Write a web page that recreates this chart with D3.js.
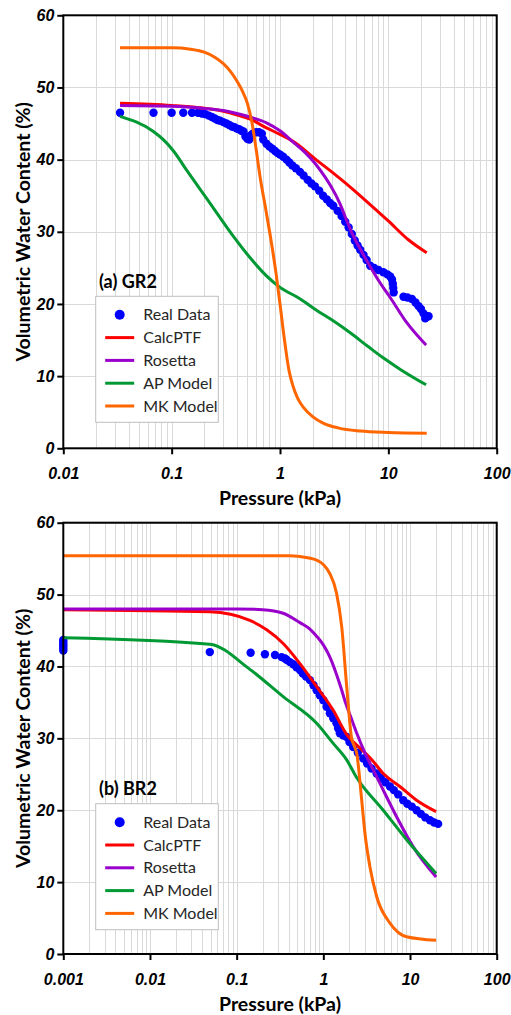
<!DOCTYPE html>
<html>
<head>
<meta charset="utf-8">
<script src="https://cdn.jsdelivr.net/npm/d3@7"></script>
<style>
  body { margin: 0; background: #fff; }
  svg { display: block; font-family: Lato, "Open Sans", sans-serif; }
  .grid line { stroke: #d9d9d9; stroke-width: 1; shape-rendering: crispEdges; }
  .axis text { font-size: 16px; font-weight: bold; font-style: italic; fill: #000; }
  .axis line { stroke: #000; stroke-width: 2; }
  .axis path { display: none; }
  .title { font-size: 19.5px; font-weight: bold; fill: #000; }
  .legend text { font-size: 16px; fill: #262626; }
</style>
</head>
<body>
<svg width="511" height="1015"></svg>
<script>
// series names, in legend order
const seriesNames = ["Real Data", "CalcPTF", "Rosetta", "AP Model", "MK Model"];
const yTicks = [0, 10, 20, 30, 40, 50, 60];
const xTicksA = [0.01, 0.1, 1, 10, 100];
const xTicksB = [0.001, 0.01, 0.1, 1, 10, 100];

// (a) GR2 : [pressure kPa, water content %]
const gr2RealData = [
  [0.0334, 46.5], [0.068, 46.5], [0.1, 46.5], [0.128, 46.5], [0.154, 46.5], [0.175, 46.5],
  [0.19, 46.4], [0.205, 46.3], [0.22, 46.1], [0.235, 45.9], [0.25, 45.7], [0.265, 45.5],
  [0.28, 45.4], [0.3, 45.2], [0.32, 45.0], [0.34, 44.8], [0.36, 44.6], [0.38, 44.5],
  [0.4, 44.3], [0.42, 44.2], [0.44, 44.0], [0.46, 43.9], [0.48, 43.2], [0.5, 42.9],
  [0.52, 42.8], [0.54, 43.4], [0.56, 43.6], [0.6, 43.8], [0.64, 43.8], [0.68, 43.6],
  [0.7, 42.8], [0.75, 42.2], [0.8, 41.8], [0.85, 41.5], [0.9, 41.2], [0.95, 40.9],
  [1.0, 40.7], [1.07, 40.4], [1.15, 40.0], [1.22, 39.6], [1.3, 39.2], [1.4, 38.8],
  [1.53, 38.3], [1.65, 37.8], [1.8, 37.2], [1.95, 36.7], [2.1, 36.3], [2.3, 35.7],
  [2.5, 35.0], [2.7, 34.5], [2.9, 34.0], [3.1, 33.6], [3.4, 32.9], [3.7, 32.2],
  [4.0, 31.4], [4.3, 30.6], [4.6, 29.7], [4.9, 28.8], [5.2, 28.1], [5.5, 27.5],
  [5.9, 26.8], [6.3, 26.1], [6.8, 25.3], [7.4, 25.0], [8.1, 24.7], [9.0, 24.4],
  [9.8, 24.1], [10.4, 23.8], [10.8, 23.4], [11.0, 22.8], [11.1, 22.2], [11.2, 21.6],
  [13.8, 21.0], [15.0, 20.9], [16.5, 20.7], [17.8, 20.2], [19.0, 19.7], [20.0, 19.3],
  [21.1, 18.7], [21.9, 18.0], [22.7, 18.3], [23.5, 18.3]
];
const gr2CalcPTF = [
  [0.0334, 47.8], [0.1, 47.5], [0.18, 47.2], [0.3, 46.7], [0.42, 46.1], [0.53, 45.6],
  [0.75, 44.4], [1.0, 43.5], [1.33, 42.5], [2.19, 39.9], [3.0, 38.3], [4.45, 36.2],
  [7.0, 33.6], [10.0, 31.5], [15.3, 28.9], [22.6, 27.1]
];
const gr2Rosetta = [
  [0.0334, 47.5], [0.1, 47.4], [0.2, 47.1], [0.3, 46.8], [0.4, 46.4], [0.53, 45.9],
  [0.75, 45.1], [1.0, 44.0], [1.33, 42.4], [1.7, 41.0], [2.13, 39.4], [2.6, 37.6],
  [2.95, 36.3], [3.6, 33.8], [4.14, 31.5], [4.76, 29.4], [5.7, 27.2], [6.79, 25.2],
  [8.5, 22.8], [10.4, 20.9], [14.8, 17.4], [22.3, 14.3]
];
const gr2APModel = [
  [0.0334, 46.0], [0.0678, 43.9], [0.0833, 42.8], [0.104, 41.2], [0.138, 38.5],
  [0.211, 34.6], [0.37, 29.4], [0.53, 26.4], [0.75, 23.9], [1.0, 22.3], [1.5, 20.8],
  [2.19, 19.1], [3.0, 17.8], [4.45, 16.0], [6.5, 14.1], [9.02, 12.5], [13.0, 10.9],
  [22.3, 8.8]
];
const gr2MKModel = [
  [0.0334, 55.5], [0.1, 55.5], [0.15, 55.3], [0.2, 54.9], [0.25, 54.2], [0.3, 53.3],
  [0.35, 52.2], [0.4, 50.9], [0.45, 49.5], [0.5, 47.8], [0.55, 45.2], [0.6, 41.6],
  [0.655, 37.6], [0.745, 32.8], [0.839, 28.2], [0.92, 24.2], [1.0, 20.0], [1.1, 15.0],
  [1.21, 10.8], [1.32, 8.6], [1.45, 7.0], [1.66, 5.6], [2.0, 4.4], [2.5, 3.5],
  [3.5, 2.8], [5.5, 2.4], [10.0, 2.2], [22.6, 2.1]
];

// (b) BR2
const br2RealData = [
  [0.001, 42.2], [0.001, 42.5], [0.001, 42.8], [0.001, 43.1], [0.001, 43.4], [0.001, 43.7],
  [0.049, 42.0], [0.145, 41.9], [0.212, 41.7], [0.277, 41.6], [0.33, 41.3], [0.361, 41.1],
  [0.38, 40.9], [0.412, 40.6], [0.45, 40.3], [0.49, 39.9], [0.537, 39.5], [0.58, 39.0],
  [0.63, 38.6], [0.7, 38.1], [0.77, 37.4], [0.837, 36.7], [0.91, 36.0], [1.0, 35.3],
  [1.09, 34.4], [1.19, 33.5], [1.3, 32.8], [1.42, 32.1], [1.48, 31.4], [1.55, 30.7],
  [1.7, 30.4], [1.86, 30.2], [2.0, 29.5], [2.21, 28.8], [2.5, 28.0], [2.89, 27.2],
  [3.2, 26.5], [3.6, 25.8], [4.12, 25.1], [4.6, 24.5], [5.2, 23.9], [5.87, 23.3],
  [6.5, 22.8], [7.3, 22.2], [8.35, 21.4], [9.3, 20.9], [10.5, 20.5], [11.9, 20.0],
  [13.3, 19.5], [15.0, 19.0], [17.0, 18.6], [19.0, 18.3], [21.1, 18.1]
];
const br2CalcPTF = [
  [0.001, 47.9], [0.049, 47.6], [0.142, 46.4], [0.222, 45.1], [0.344, 43.2], [0.537, 40.4],
  [0.837, 37.2], [1.3, 33.9], [1.82, 30.7], [2.79, 28.4], [3.64, 27.0], [4.91, 25.1],
  [7.64, 23.3], [11.9, 21.4], [20, 19.8]
];
const br2Rosetta = [
  [0.001, 48.0], [0.1, 48.0], [0.2, 47.9], [0.344, 47.4], [0.537, 46.1], [0.7, 45.2],
  [0.837, 44.2], [1.0, 43.0], [1.19, 41.3], [1.4, 39.1], [1.6, 37.0], [1.82, 34.8],
  [2.1, 32.8], [2.38, 31.0], [3.12, 27.6], [4.0, 25.0], [4.91, 22.8], [7.0, 19.1],
  [10.9, 14.9], [20, 10.7]
];
const br2APModel = [
  [0.001, 44.0], [0.049, 43.1], [0.142, 39.6], [0.344, 35.8], [0.837, 32.1], [1.3, 29.3],
  [1.86, 27.0], [2.38, 24.7], [4.91, 20.0], [9.14, 15.9], [20, 11.2]
];
const br2MKModel = [
  [0.001, 55.4], [0.1, 55.4], [0.4, 55.4], [0.537, 55.3], [0.837, 54.8], [1.19, 52.9],
  [1.42, 50.2], [1.63, 45.5], [1.86, 37.2], [2.12, 30.0], [2.3, 28.8], [2.42, 28.0],
  [2.77, 21.4], [3.02, 16.8], [3.45, 12.1], [4.12, 8.0], [5.87, 4.3], [9.14, 2.4], [20, 1.9]
];

const colors = ["#0000ff", "#ff0000", "#9900cc", "#009933", "#ff6600"];

function drawPanel(svg, cfg) {
    const x = d3.scaleLog()
        .domain([cfg.xTicks[0], cfg.xTicks[cfg.xTicks.length - 1]])
        .range([63.3, 496.7]);
    const y = d3.scaleLinear()
        .domain([0, 60])
        .range([cfg.bottom, cfg.top]);

    const g = svg.append("g");

    // gridlines
    const grid = g.append("g").attr("class", "grid");
    grid.selectAll(".vg")
        .data(x.ticks())
        .enter().append("line")
        .attr("x1", d => Math.round(x(d)) + 0.5)
        .attr("x2", d => Math.round(x(d)) + 0.5)
        .attr("y1", cfg.top)
        .attr("y2", cfg.bottom);
    grid.selectAll(".hg")
        .data(yTicks)
        .enter().append("line")
        .attr("x1", x.range()[0])
        .attr("x2", x.range()[1])
        .attr("y1", d => Math.round(y(d)) + 0.5)
        .attr("y2", d => Math.round(y(d)) + 0.5);

    // series
    const line = d3.line()
        .x(d => x(d[0]))
        .y(d => y(d[1]))
        .curve(d3.curveMonotoneX);

    g.selectAll(".dot")
        .data(cfg.real)
        .enter().append("circle")
        .attr("cx", d => x(d[0]))
        .attr("cy", d => y(d[1]))
        .attr("r", 4.2)
        .attr("fill", colors[0]);

    cfg.lines.forEach((s, i) => {
        g.append("path")
            .datum(s)
            .attr("fill", "none")
            .attr("stroke", colors[i + 1])
            .attr("stroke-width", 3)
            .attr("stroke-linejoin", "round")
            .attr("d", line);
    });

    // axes
    g.append("g")
        .attr("class", "axis")
        .attr("transform", `translate(${x.range()[0]},0)`)
        .call(d3.axisLeft(y).tickValues(yTicks).tickSize(6).tickPadding(3));

    g.append("g")
        .attr("class", "axis")
        .attr("transform", `translate(0,${cfg.bottom})`)
        .call(d3.axisBottom(x).tickValues(cfg.xTicks).tickFormat(d => String(d)).tickSize(6).tickPadding(13.5));

    g.append("rect")
        .attr("x", x.range()[0])
        .attr("y", cfg.top)
        .attr("width", x.range()[1] - x.range()[0])
        .attr("height", cfg.bottom - cfg.top)
        .attr("fill", "none")
        .attr("stroke", "#000")
        .attr("stroke-width", 2);

    // titles
    g.append("text")
        .attr("class", "title")
        .attr("text-anchor", "middle")
        .attr("x", 280)
        .attr("y", cfg.bottom + 57)
        .text("Pressure (kPa)");
    g.append("text")
        .attr("class", "title")
        .attr("text-anchor", "middle")
        .attr("transform", `translate(29.5,${(cfg.top + cfg.bottom) / 2}) rotate(-90)`)
        .text("Volumetric Water Content (%)");

    g.append("text")
        .attr("class", "title")
        .style("font-size", "18px")
        .attr("x", 99)
        .attr("y", cfg.top + 272.5)
        .text(cfg.label);

    // legend
    const lg = g.append("g")
        .attr("class", "legend")
        .attr("transform", `translate(95.7,${cfg.top + 281})`);
    lg.append("rect")
        .attr("width", 122.6)
        .attr("height", 126)
        .attr("fill", "#fff")
        .attr("stroke", "#bfbfbf")
        .attr("stroke-width", 1);
    const item = lg.selectAll(".item")
        .data(seriesNames)
        .enter().append("g")
        .attr("transform", (d, i) => `translate(0,${18.5 + i * 22.8})`);
    item.filter((d, i) => i === 0).append("circle")
        .attr("cx", 24)
        .attr("r", 5)
        .attr("fill", colors[0]);
    item.filter((d, i) => i > 0).append("line")
        .attr("x1", 9.5)
        .attr("x2", 38.5)
        .attr("stroke", d => colors[seriesNames.indexOf(d)])
        .attr("stroke-width", 3);
    item.append("text")
        .attr("x", 47.5)
        .attr("dy", "0.35em")
        .text(d => d);
}

const svg = d3.select("svg");
drawPanel(svg, {
    top: 15.3, bottom: 448.3, xTicks: xTicksA, label: "(a) GR2",
    real: gr2RealData, lines: [gr2CalcPTF, gr2Rosetta, gr2APModel, gr2MKModel]
});
drawPanel(svg, {
    top: 522.7, bottom: 954, xTicks: xTicksB, label: "(b) BR2",
    real: br2RealData, lines: [br2CalcPTF, br2Rosetta, br2APModel, br2MKModel]
});
</script>
</body>
</html>
